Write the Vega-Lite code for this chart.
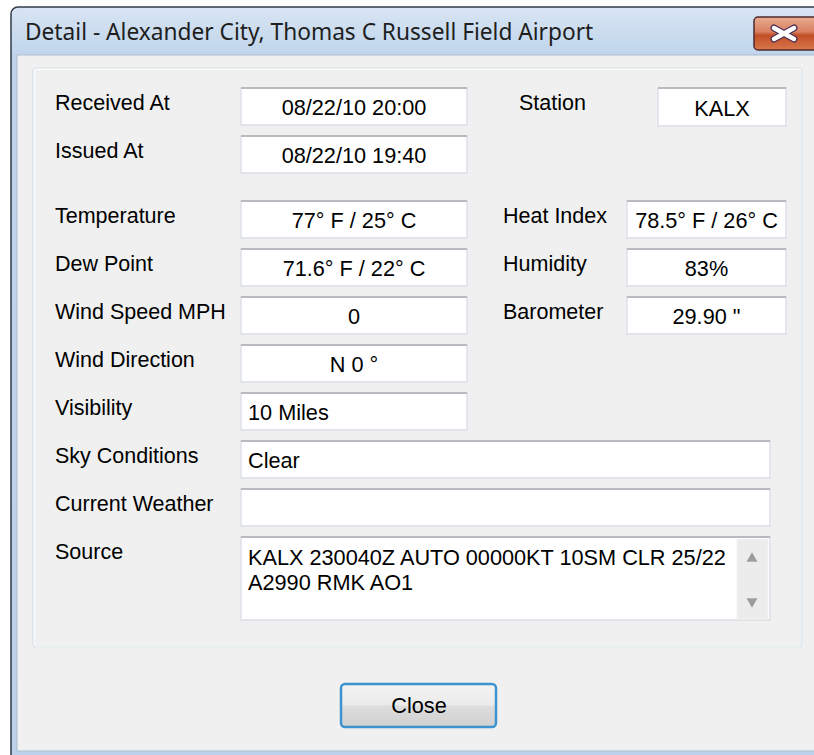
{
  "$schema": "https://vega.github.io/schema/vega-lite/v6.json",
  "width": 814,
  "height": 755,
  "padding": 0,
  "autosize": {"type": "none"},
  "background": "white",
  "config": {"view": {"stroke": null}},
  "datasets": {
    "shapes": [
      {"kind": "frame", "x": 11, "x2": 822, "y": 7, "y2": 762},
      {"kind": "body", "x": 17, "x2": 822, "y": 55, "y2": 751},
      {"kind": "group", "x": 33, "x2": 802, "y": 68, "y2": 647},
      {"kind": "textbox", "x": 241, "x2": 467, "y": 88, "y2": 125},
      {"kind": "textbox", "x": 241, "x2": 467, "y": 136, "y2": 173},
      {"kind": "textbox", "x": 658, "x2": 786, "y": 88, "y2": 126},
      {"kind": "textbox", "x": 241, "x2": 467, "y": 201, "y2": 238},
      {"kind": "textbox", "x": 241, "x2": 467, "y": 249, "y2": 286},
      {"kind": "textbox", "x": 241, "x2": 467, "y": 297, "y2": 334},
      {"kind": "textbox", "x": 241, "x2": 467, "y": 345, "y2": 382},
      {"kind": "textbox", "x": 241, "x2": 467, "y": 393, "y2": 430},
      {"kind": "textbox", "x": 627, "x2": 786, "y": 201, "y2": 238},
      {"kind": "textbox", "x": 627, "x2": 786, "y": 249, "y2": 286},
      {"kind": "textbox", "x": 627, "x2": 786, "y": 297, "y2": 334},
      {"kind": "textbox", "x": 241, "x2": 770, "y": 441, "y2": 478},
      {"kind": "textbox", "x": 241, "x2": 770, "y": 489, "y2": 526},
      {"kind": "textbox", "x": 241, "x2": 770, "y": 537, "y2": 620},
      {"kind": "scroll", "x": 737, "x2": 768, "y": 539, "y2": 619},
      {"kind": "button", "x": 341, "x2": 496, "y": 684, "y2": 727},
      {"kind": "xbutton", "x": 754, "x2": 822, "y": 17, "y2": 50}
    ],
    "strokes": [
      {"x": 774, "x2": 794, "y": 28, "y2": 39},
      {"x": 774, "x2": 794, "y": 39, "y2": 28}
    ],
    "arrows": [
      {"dir": "up", "x": 752, "y": 557},
      {"dir": "down", "x": 752, "y": 603}
    ],
    "texts": [
      {"kind": "title", "text": "Detail - Alexander City, Thomas C Russell Field Airport", "x": 25, "y": 40},
      {"kind": "label", "text": "Received At", "x": 55, "y": 110},
      {"kind": "label", "text": "Issued At", "x": 55, "y": 158},
      {"kind": "label", "text": "Station", "x": 519, "y": 110},
      {"kind": "label", "text": "Temperature", "x": 55, "y": 223},
      {"kind": "label", "text": "Dew Point", "x": 55, "y": 271},
      {"kind": "label", "text": "Wind Speed MPH", "x": 55, "y": 319},
      {"kind": "label", "text": "Wind Direction", "x": 55, "y": 367},
      {"kind": "label", "text": "Visibility", "x": 55, "y": 415},
      {"kind": "label", "text": "Sky Conditions", "x": 55, "y": 463},
      {"kind": "label", "text": "Current Weather", "x": 55, "y": 511},
      {"kind": "label", "text": "Source", "x": 55, "y": 559},
      {"kind": "label", "text": "Heat Index", "x": 503, "y": 223},
      {"kind": "label", "text": "Humidity", "x": 503, "y": 271},
      {"kind": "label", "text": "Barometer", "x": 503, "y": 319},
      {"kind": "center", "text": "08/22/10 20:00", "x": 354, "y": 115},
      {"kind": "center", "text": "08/22/10 19:40", "x": 354, "y": 163},
      {"kind": "center", "text": "KALX", "x": 722, "y": 116},
      {"kind": "center", "text": "77° F / 25° C", "x": 354, "y": 228},
      {"kind": "center", "text": "71.6° F / 22° C", "x": 354, "y": 276},
      {"kind": "center", "text": "0", "x": 354, "y": 324},
      {"kind": "center", "text": "N 0 °", "x": 354, "y": 372},
      {"kind": "center", "text": "78.5° F / 26° C", "x": 706.5, "y": 228},
      {"kind": "center", "text": "83%", "x": 706.5, "y": 276},
      {"kind": "center", "text": "29.90 \"", "x": 706.5, "y": 324},
      {"kind": "left", "text": "10 Miles", "x": 248, "y": 420},
      {"kind": "left", "text": "Clear", "x": 248, "y": 468},
      {"kind": "left", "text": "KALX 230040Z AUTO 00000KT 10SM CLR 25/22", "x": 248, "y": 565},
      {"kind": "left", "text": "A2990 RMK AO1", "x": 248, "y": 590},
      {"kind": "button", "text": "Close", "x": 419, "y": 713}
    ]
  },
  "encoding": {},
  "layer": [
    {
      "data": {"name": "shapes"},
      "transform": [{"filter": "datum.kind == 'frame'"}],
      "mark": {
        "type": "rect", "cornerRadius": 7, "stroke": "#2f3b48", "strokeWidth": 1.5,
        "fill": {"gradient": "linear", "x1": 0, "y1": 0, "x2": 0, "y2": 1,
          "stops": [{"offset": 0, "color": "#d8e5f3"}, {"offset": 0.065, "color": "#bfd4eb"}, {"offset": 1, "color": "#bcd2ea"}]}
      },
      "encoding": {
        "x": {"field": "x", "type": "quantitative", "scale": {"domain": [0, 814], "range": [0, 814], "nice": false, "zero": false}, "axis": null},
        "x2": {"field": "x2"},
        "y": {"field": "y", "type": "quantitative", "scale": {"domain": [0, 755], "range": [0, 755], "nice": false, "zero": false}, "axis": null},
        "y2": {"field": "y2"}
      }
    },
    {
      "data": {"name": "shapes"},
      "transform": [{"filter": "datum.kind == 'body'"}],
      "mark": {"type": "rect", "fill": "#f0f0f0", "stroke": "#a9bcd2", "strokeWidth": 1},
      "encoding": {
        "x": {"field": "x", "type": "quantitative", "axis": null}, "x2": {"field": "x2"},
        "y": {"field": "y", "type": "quantitative", "axis": null}, "y2": {"field": "y2"}
      }
    },
    {
      "data": {"name": "shapes"},
      "transform": [{"filter": "datum.kind == 'group'"}],
      "mark": {"type": "rect", "fill": null, "stroke": "#ffffff", "strokeWidth": 1.5, "cornerRadius": 3, "xOffset": 1, "yOffset": 1},
      "encoding": {
        "x": {"field": "x", "type": "quantitative", "axis": null}, "x2": {"field": "x2"},
        "y": {"field": "y", "type": "quantitative", "axis": null}, "y2": {"field": "y2"}
      }
    },
    {
      "data": {"name": "shapes"},
      "transform": [{"filter": "datum.kind == 'group'"}],
      "mark": {"type": "rect", "fill": null, "stroke": "#d5dfe5", "strokeWidth": 1.2, "cornerRadius": 3},
      "encoding": {
        "x": {"field": "x", "type": "quantitative", "axis": null}, "x2": {"field": "x2"},
        "y": {"field": "y", "type": "quantitative", "axis": null}, "y2": {"field": "y2"}
      }
    },
    {
      "data": {"name": "shapes"},
      "transform": [{"filter": "datum.kind == 'textbox'"}],
      "mark": {"type": "rect", "fill": "#ffffff", "stroke": "#d9dde4", "strokeWidth": 1.3},
      "encoding": {
        "x": {"field": "x", "type": "quantitative", "axis": null}, "x2": {"field": "x2"},
        "y": {"field": "y", "type": "quantitative", "axis": null}, "y2": {"field": "y2"}
      }
    },
    {
      "data": {"name": "shapes"},
      "transform": [{"filter": "datum.kind == 'textbox'"}],
      "mark": {"type": "rule", "color": "#abadb3", "strokeWidth": 1.5},
      "encoding": {
        "x": {"field": "x", "type": "quantitative", "axis": null}, "x2": {"field": "x2"},
        "y": {"field": "y", "type": "quantitative", "axis": null}
      }
    },
    {
      "data": {"name": "shapes"},
      "transform": [{"filter": "datum.kind == 'scroll'"}],
      "mark": {"type": "rect", "fill": "#ececec", "stroke": "#f4f4f4"},
      "encoding": {
        "x": {"field": "x", "type": "quantitative", "axis": null}, "x2": {"field": "x2"},
        "y": {"field": "y", "type": "quantitative", "axis": null}, "y2": {"field": "y2"}
      }
    },
    {
      "data": {"name": "arrows"},
      "transform": [{"filter": "datum.dir == 'up'"}],
      "mark": {"type": "point", "shape": "triangle-up", "filled": true, "color": "#9c9c9c", "size": 120, "opacity": 1},
      "encoding": {
        "x": {"field": "x", "type": "quantitative", "axis": null},
        "y": {"field": "y", "type": "quantitative", "axis": null}
      }
    },
    {
      "data": {"name": "arrows"},
      "transform": [{"filter": "datum.dir == 'down'"}],
      "mark": {"type": "point", "shape": "triangle-down", "filled": true, "color": "#9c9c9c", "size": 120, "opacity": 1},
      "encoding": {
        "x": {"field": "x", "type": "quantitative", "axis": null},
        "y": {"field": "y", "type": "quantitative", "axis": null}
      }
    },
    {
      "data": {"name": "shapes"},
      "transform": [{"filter": "datum.kind == 'button'"}],
      "mark": {
        "type": "rect", "cornerRadius": 4, "stroke": "#3c93d0", "strokeWidth": 2.5,
        "fill": {"gradient": "linear", "x1": 0, "y1": 0, "x2": 0, "y2": 1,
          "stops": [{"offset": 0, "color": "#f3f3f3"}, {"offset": 0.48, "color": "#ebebeb"}, {"offset": 0.52, "color": "#dddddd"}, {"offset": 1, "color": "#d0d0d0"}]}
      },
      "encoding": {
        "x": {"field": "x", "type": "quantitative", "axis": null}, "x2": {"field": "x2"},
        "y": {"field": "y", "type": "quantitative", "axis": null}, "y2": {"field": "y2"}
      }
    },
    {
      "data": {"name": "shapes"},
      "transform": [{"filter": "datum.kind == 'xbutton'"}],
      "mark": {
        "type": "rect", "cornerRadius": 4, "stroke": "#4e2a2a", "strokeWidth": 1.5,
        "fill": {"gradient": "linear", "x1": 0, "y1": 0, "x2": 0, "y2": 1,
          "stops": [{"offset": 0, "color": "#e9ab90"}, {"offset": 0.45, "color": "#d98061"}, {"offset": 0.55, "color": "#c24f27"}, {"offset": 1, "color": "#d9764a"}]}
      },
      "encoding": {
        "x": {"field": "x", "type": "quantitative", "axis": null}, "x2": {"field": "x2"},
        "y": {"field": "y", "type": "quantitative", "axis": null}, "y2": {"field": "y2"}
      }
    },
    {
      "data": {"name": "strokes"},
      "mark": {"type": "rule", "color": "#4a2f55", "strokeWidth": 7, "strokeCap": "round"},
      "encoding": {
        "x": {"field": "x", "type": "quantitative", "axis": null}, "x2": {"field": "x2"},
        "y": {"field": "y", "type": "quantitative", "axis": null}, "y2": {"field": "y2"}
      }
    },
    {
      "data": {"name": "strokes"},
      "mark": {"type": "rule", "color": "#ffffff", "strokeWidth": 4.5, "strokeCap": "round"},
      "encoding": {
        "x": {"field": "x", "type": "quantitative", "axis": null}, "x2": {"field": "x2"},
        "y": {"field": "y", "type": "quantitative", "axis": null}, "y2": {"field": "y2"}
      }
    },
    {
      "data": {"name": "texts"},
      "transform": [{"filter": "datum.kind == 'title'"}],
      "mark": {"type": "text", "font": "Noto Sans", "fontSize": 22.7, "fill": "#1e1e1e", "align": "left", "baseline": "alphabetic"},
      "encoding": {
        "x": {"field": "x", "type": "quantitative", "axis": null},
        "y": {"field": "y", "type": "quantitative", "axis": null},
        "text": {"field": "text"}
      }
    },
    {
      "data": {"name": "texts"},
      "transform": [{"filter": "datum.kind == 'label'"}],
      "mark": {"type": "text", "font": "Liberation Sans", "fontSize": 21.5, "fill": "#000000", "align": "left", "baseline": "alphabetic"},
      "encoding": {
        "x": {"field": "x", "type": "quantitative", "axis": null},
        "y": {"field": "y", "type": "quantitative", "axis": null},
        "text": {"field": "text"}
      }
    },
    {
      "data": {"name": "texts"},
      "transform": [{"filter": "datum.kind == 'center' || datum.kind == 'button'"}],
      "mark": {"type": "text", "font": "Liberation Sans", "fontSize": 21.7, "fill": "#000000", "align": "center", "baseline": "alphabetic"},
      "encoding": {
        "x": {"field": "x", "type": "quantitative", "axis": null},
        "y": {"field": "y", "type": "quantitative", "axis": null},
        "text": {"field": "text"}
      }
    },
    {
      "data": {"name": "texts"},
      "transform": [{"filter": "datum.kind == 'left'"}],
      "mark": {"type": "text", "font": "Liberation Sans", "fontSize": 21.7, "fill": "#000000", "align": "left", "baseline": "alphabetic"},
      "encoding": {
        "x": {"field": "x", "type": "quantitative", "axis": null},
        "y": {"field": "y", "type": "quantitative", "axis": null},
        "text": {"field": "text"}
      }
    }
  ]
}
